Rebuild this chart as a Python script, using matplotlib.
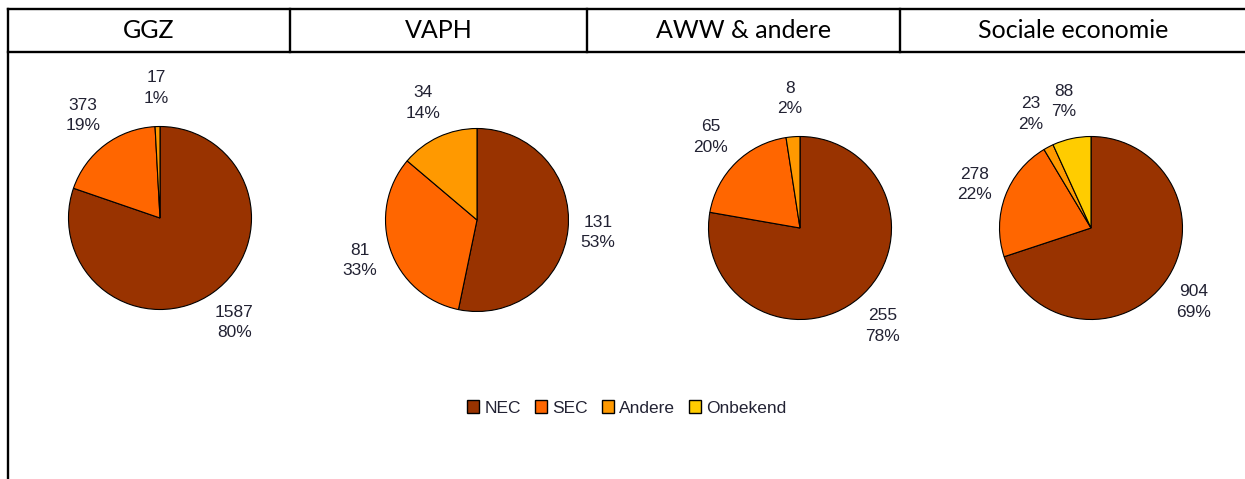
import numpy as np
import matplotlib
matplotlib.use('Agg')
import matplotlib.pyplot as plt
from matplotlib.patches import Patch
from matplotlib.lines import Line2D

# ---------------------------------------------------------------------------
groups = ['GGZ', 'VAPH', 'AWW & andere', 'Sociale economie']
categories = ['NEC', 'SEC', 'Andere', 'Onbekend']
colors = ['#993300', '#FF6600', '#FF9900', '#FFCC00']

ggz_values = [1587, 373, 17, 0]
vaph_values = [131, 81, 34, 0]
aww_values = [255, 65, 8, 0]
soc_values = [904, 278, 23, 88]

ggz_pct = [80, 19, 1, 0]
vaph_pct = [53, 33, 14, 0]
aww_pct = [78, 20, 2, 0]
soc_pct = [69, 22, 2, 7]

all_values = [ggz_values, vaph_values, aww_values, soc_values]
all_pct = [ggz_pct, vaph_pct, aww_pct, soc_pct]

W, H = 1245, 479
LABEL_COLOR = '#222233'
LABEL_FONT = 'Liberation Sans'

# pie centres in pixels (x, y from top), radius in pixels
centres = [(160, 218), (477, 220), (800, 228), (1091, 228)]
RADIUS_PX = 91.5
BOX_PX = 300

# header table
col_edges = [8, 290, 587, 900, 1247]
head_top, head_bot = 9, 52

#----------------------------------------------------------------------------
def hline(fig, x0, x1, y):
    fig.add_artist(Line2D([x0 / W, x1 / W], [1 - y / H, 1 - y / H],
                          transform=fig.transFigure, color='black', lw=1.7))

def vline(fig, x, y0, y1):
    fig.add_artist(Line2D([x / W, x / W], [1 - y0 / H, 1 - y1 / H],
                          transform=fig.transFigure, color='black', lw=1.7))

#----------------------------------------------------------------------------
def drawPie(fig, centre, values, pct):
    cx, cy = centre
    ax = fig.add_axes([(cx - BOX_PX / 2) / W, 1 - (cy + BOX_PX / 2) / H,
                       BOX_PX / W, BOX_PX / H])
    ax.patch.set_visible(False)

    keep = [i for i, v in enumerate(values) if v > 0]
    vals = [values[i] for i in keep]
    cols = [colors[i] for i in keep]

    wedges, _ = ax.pie(vals, colors=cols, startangle=90, counterclock=False,
                       radius=1, wedgeprops=dict(edgecolor='black', linewidth=0.8))

    lim = (BOX_PX / 2) / RADIUS_PX
    ax.set_xlim(-lim, lim)
    ax.set_ylim(-lim, lim)
    ax.set_aspect('equal')
    ax.axis('off')

    # labels just outside the wedge, a bit further out when above/below
    for w, i in zip(wedges, keep):
        mid = np.deg2rad((w.theta1 + w.theta2) / 2)
        d = 1.32 + 0.1 * abs(np.sin(mid))
        ax.text(d * np.cos(mid), d * np.sin(mid),
                '{}\n{}%'.format(values[i], pct[i]),
                ha='center', va='center', fontsize=12.5, family=LABEL_FONT,
                color=LABEL_COLOR, linespacing=1.45)

#----------------------------------------------------------------------------
def main():
    fig = plt.figure(figsize=(W / 100, H / 100), dpi=100)
    fig.patch.set_facecolor('white')

    # header table
    hline(fig, col_edges[0], col_edges[-1], head_top)
    hline(fig, col_edges[0], col_edges[-1], head_bot)
    vline(fig, col_edges[0], head_top, H + 2)
    for x in col_edges[1:-1]:
        vline(fig, x, head_top, head_bot)

    for g, x0, x1 in zip(groups, col_edges[:-1], col_edges[1:]):
        fig.text((x0 + x1) / 2 / W, 1 - (head_top + head_bot) / 2 / H, g,
                 ha='center', va='center', fontsize=18, family='Lato',
                 color='black')

    for centre, values, pct in zip(centres, all_values, all_pct):
        drawPie(fig, centre, values, pct)

    handles = [Patch(facecolor=c, edgecolor='black', linewidth=1.0) for c in colors]
    fig.legend(handles, categories, loc='center',
               bbox_to_anchor=(627 / W, 1 - 408 / H), ncol=4, frameon=False,
               handlelength=0.7, handleheight=0.7, handletextpad=0.3,
               columnspacing=0.8, borderaxespad=0,
               prop={'family': LABEL_FONT, 'size': 12.5}, labelcolor=LABEL_COLOR)

    fig.savefig('out.png', dpi=100)

if __name__ == "__main__":
    main()
